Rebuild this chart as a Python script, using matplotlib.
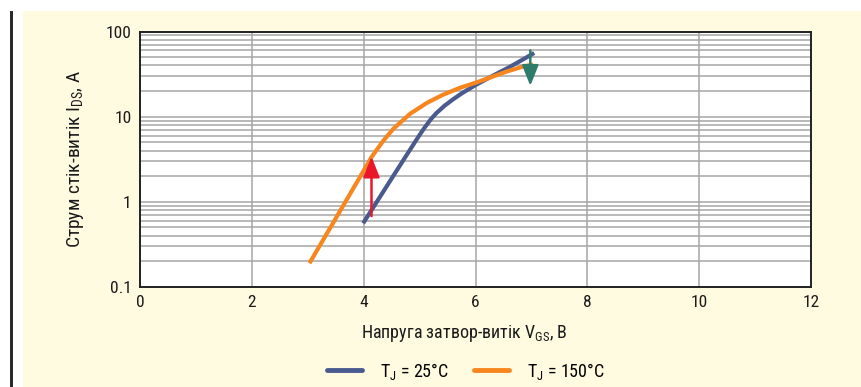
import matplotlib
matplotlib.use("Agg")
import matplotlib.pyplot as plt
from matplotlib.patches import Rectangle
from matplotlib import font_manager as fm
from matplotlib import ticker

# Transfer characteristic data (gate voltage, V -> drain current, A)
vgs_25 = [3.99, 4.2, 4.4, 4.6, 4.8, 5.0, 5.1, 5.2, 5.3, 5.45, 5.6, 5.75,
          6.0, 6.3, 6.6, 6.85, 7.05]
ids_25 = [0.56, 0.92, 1.48, 2.38, 3.82, 6.1, 7.6, 9.3, 11.0, 13.5, 16.0, 18.7,
          23.5, 30.0, 38.0, 47.0, 56.0]

vgs_150 = [3.03, 3.22, 3.46, 3.70, 3.99, 4.14, 4.35, 4.53, 4.83, 5.13,
           5.42, 5.72, 6.0, 6.26, 6.56, 6.85, 7.03]
ids_150 = [0.19, 0.31, 0.575, 1.07, 2.26, 3.35, 5.2, 7.2, 10.8, 14.5,
           18.1, 21.8, 25.0, 28.8, 33.9, 38.7, 41.0]

# Annotation arrows: (x, y_start, y_end)
arrow_up = (4.14, 0.68, 3.4)
arrow_down = (6.98, 60.0, 23.0)

x_ticks = [0, 2, 4, 6, 8, 10, 12]
y_ticks = [0.1, 1, 10, 100]
y_tick_labels = ["0.1", "1", "10", "100"]

labels = ["T$_\\mathregular{J}$ = 25°C", "T$_\\mathregular{J}$ = 150°C"]
x_label = "Напруга затвор-витік V$_\\mathregular{GS}$, B"
y_label = "Струм стік-витік I$_\\mathregular{DS}$, A"

available = {f.name for f in fm.fontManager.ttflist}
family = "DejaVu Sans"
for cand in ["Liberation Sans Narrow", "Roboto Condensed", "Open Sans Condensed",
             "DejaVu Sans Condensed", "Liberation Sans"]:
    if cand in available:
        family = cand
        break
plt.rcParams["font.family"] = [family, "DejaVu Sans"]
plt.rcParams["mathtext.fontset"] = "custom"
plt.rcParams["mathtext.rm"] = family

W, H = 861, 387
fig = plt.figure(figsize=(W / 100, H / 100), dpi=100)
fig.patch.set_facecolor("white")

# cream panel and dark side rule
bg = fig.add_axes([0, 0, 1, 1], zorder=0)
bg.set_xlim(0, W)
bg.set_ylim(H, 0)
bg.axis("off")
bg.add_patch(Rectangle((23, 11), W - 23, H - 11, facecolor="#fffbe1", edgecolor="none"))
bg.add_patch(Rectangle((10, 11), 3, H - 11, facecolor="#2a2a2a", edgecolor="none"))

ax = fig.add_axes([140 / W, 1 - 287 / H, (811 - 140) / W, (287 - 31.5) / H], zorder=2)
ax.set_facecolor("white")
ax.set_yscale("log")
ax.set_xlim(0, 12)
ax.set_ylim(0.1, 100)

ax.set_xticks(x_ticks)
ax.set_xticklabels([str(t) for t in x_ticks])
ax.set_yticks(y_ticks)
ax.set_yticklabels(y_tick_labels)
ax.tick_params(axis="both", length=0, labelsize=12.5, colors="#1a1a1a", pad=6)
ax.xaxis.set_minor_locator(ticker.NullLocator())
ax.yaxis.set_minor_locator(ticker.LogLocator(base=10, subs=range(2, 10)))
ax.yaxis.set_minor_formatter(ticker.NullFormatter())
ax.tick_params(axis="both", which="minor", length=0)

ax.grid(True, which="major", axis="both", color="#a6a6a6", linewidth=1.1)
ax.grid(True, which="minor", axis="y", color="#a6a6a6", linewidth=1.1)
ax.set_axisbelow(True)
for s in ax.spines.values():
    s.set_color("#222222")
    s.set_linewidth(1.4)

ax.plot(vgs_25, ids_25, color="#4a5a8e", linewidth=3, solid_capstyle="butt",
        solid_joinstyle="round", label=labels[0], zorder=3)
ax.plot(vgs_150, ids_150, color="#f7861e", linewidth=3, solid_capstyle="butt",
        solid_joinstyle="round", label=labels[1], zorder=3)


def draw_arrow(x, y0, y1, color):
    ax.annotate("", xy=(x, y1), xytext=(x, y0), xycoords="data",
                arrowprops=dict(arrowstyle="-|>,head_length=1.25,head_width=0.5",
                                color=color, linewidth=1.8,
                                shrinkA=0, shrinkB=0),
                zorder=4)


draw_arrow(*arrow_up, "#e8182a")
draw_arrow(*arrow_down, "#2e7c6c")

fig.text(464 / W, 1 - 333 / H, x_label, fontsize=13, color="#1a1a1a",
         ha="center", va="center")
ax.set_ylabel(y_label, fontsize=14, color="#1a1a1a", labelpad=14)

leg = ax.legend(loc="center", bbox_to_anchor=(466 / W, 1 - 371 / H), ncol=2,
                bbox_transform=fig.transFigure,
                frameon=False, fontsize=13, handlelength=1.95, columnspacing=1.4,
                handletextpad=1.0)
for line in leg.get_lines():
    line.set_linewidth(3.5)
    line.set_solid_capstyle("round")

fig.savefig("out.png", dpi=100, facecolor=fig.get_facecolor())
